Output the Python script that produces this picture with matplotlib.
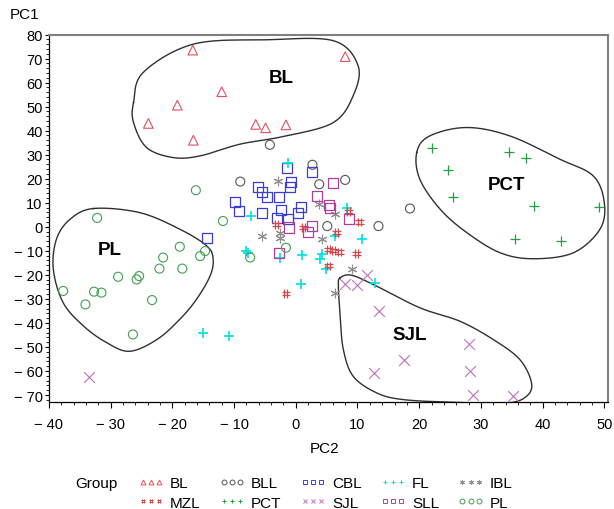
import numpy as np
import matplotlib
matplotlib.use('Agg')
import matplotlib.pyplot as plt
from matplotlib.path import Path
from matplotlib.lines import Line2D
from matplotlib.ticker import MultipleLocator, FuncFormatter

plt.rcParams['font.family'] = ['Liberation Sans', 'DejaVu Sans']

# groups (PC2 -> x, PC1 -> y)
BL_x = [-16.7, -12.0, -19.2, -23.9, -16.6, -6.5, -4.9, -1.6, 8.0]
BL_y = [73.5, 56.2, 50.6, 43.0, 36.0, 42.6, 41.2, 42.4, 70.8]
BLL_x = [-4.2, 2.7, -9.0, 3.8, 8.0, 5.1, 13.4, 18.5]
BLL_y = [34.1, 25.8, 18.8, 17.7, 19.5, 0.3, 0.3, 7.6]
CBL_x = [-1.4, 2.7, -0.8, -0.9, -6.1, -5.5, -4.7, -2.7, -9.9, -9.2, -5.4, -2.4, -3.1, -1.2, 0.3, 0.8, -14.4]
CBL_y = [24.3, 22.6, 18.8, 16.5, 16.6, 14.3, 12.2, 12.4, 10.5, 6.6, 5.6, 7.0, 3.8, 3.4, 5.6, 8.1, -4.5]
FL_x = [-1.2, -7.3, 8.3, -8.1, -7.8, -2.6, 1.0, 4.2, 4.0, 4.9, 6.4, 10.8, 0.8, 12.8, -15.0, -10.8]
FL_y = [26.5, 4.4, 7.7, -10.1, -11.0, -12.8, -11.8, -11.5, -13.5, -17.7, -3.8, -4.9, -24.0, -23.3, -44.1, -45.5]
IBL_x = [-2.9, 3.8, 6.4, -5.5, -2.6, -2.6, 4.2, 9.1, 6.4]
IBL_y = [19.1, 9.4, 5.2, -3.8, -2.4, -4.5, -5.2, -17.7, -27.7]
MZL_x = [-3.1, 1.2, 8.6, 10.3, 6.6, 5.3, 6.1, 7.1, 9.8, 5.3, -1.6]
MZL_y = [1.0, -0.3, 6.2, 2.0, -2.4, -9.4, -9.8, -10.5, -11.0, -16.3, -27.7]
PCT_x = [22.0, 34.6, 37.3, 24.7, 25.4, 38.6, 49.1, 35.5, 43.0]
PCT_y = [32.6, 31.3, 28.5, 23.5, 12.4, 8.5, 8.1, -5.2, -5.8]
SJL_x = [8.0, 10.0, 11.5, 13.5, 28.1, 17.6, 12.6, 28.2, 28.8, 35.2, -33.5]
SJL_y = [-23.7, -24.4, -19.9, -35.2, -48.8, -55.6, -60.8, -60.2, -70.1, -70.5, -62.7]
SLL_x = [6.1, 3.5, 5.4, 5.5, 8.6, -1.1, 2.6, 2.0, -2.8]
SLL_y = [18.4, 12.8, 9.0, 8.0, 3.4, -0.3, 0.3, -2.0, -10.8]
PL_x = [-16.2, -11.8, -32.2, -18.8, -14.7, -15.5, -21.5, -22.1, -18.4, -28.8, -25.4, -25.8,
        -37.7, -32.7, -31.5, -34.1, -23.3, -26.4, -1.6, -7.4]
PL_y = [15.2, 2.4, 3.7, -8.3, -10.1, -12.2, -12.8, -17.4, -17.4, -20.8, -20.5, -21.9,
        -26.7, -27.0, -27.4, -32.3, -30.5, -44.8, -8.7, -12.8]

# hand drawn outlines round the four separated groups
BL_hull_x = [-26.3, -24.7, -16.6, -4.7, 6.1, 10.1, 9.3, 6.1, -1.5, -9.0, -15.5, -19.9, -24.2, -26.3]
BL_hull_y = [51.7, 64.3, 76.0, 77.8, 77.4, 67.0, 54.5, 43.4, 37.8, 34.4, 29.5, 28.8, 33.0, 43.4]
PCT_hull_x = [19.6, 21.7, 27.7, 34.7, 42.8, 48.2, 50.0, 49.3, 45.0, 38.5, 33.1, 27.7, 23.4, 20.1]
PCT_hull_y = [30.9, 37.8, 41.3, 37.8, 28.1, 21.2, 10.1, -1.0, -10.8, -13.3, -10.8, -2.4, 7.3, 19.8]
SJL_hull_x = [7.2, 9.1, 13.1, 20.1, 26.6, 32.0, 36.3, 38.2, 37.4, 34.2, 25.5, 17.4, 13.1, 9.3, 7.7, 7.2, 6.9]
SJL_hull_y = [-21.2, -20.2, -24.7, -33.7, -39.3, -46.9, -55.2, -64.9, -70.5, -73.3, -73.0, -71.9, -69.1,
              -62.2, -51.0, -37.2, -24.7]
PL_hull_x = [-32.8, -25.3, -18.8, -14.4, -13.4, -13.9, -16.1, -18.8, -22.5, -26.9, -30.6, -34.4,
             -37.7, -39.3, -38.8, -36.6]
PL_hull_y = [7.6, 5.9, -1.0, -8.0, -13.5, -20.5, -30.2, -38.5, -46.9, -51.8, -48.3, -41.3,
             -31.6, -17.7, -5.2, 3.1]

hull_labels = ['BL', 'PCT', 'SJL', 'PL']
hull_lab_x = [-2.3, 34.2, 18.5, -30.2]
hull_lab_y = [62.2, 17.7, -44.8, -9.4]


def closed_spline(xs, ys, n=20):
    # closed catmull-rom through the outline points
    p = np.column_stack([xs, ys])
    m = len(p)
    out = []
    t = np.linspace(0, 1, n, endpoint=False)[:, None]
    for i in range(m):
        p0, p1, p2, p3 = p[(i - 1) % m], p[i], p[(i + 1) % m], p[(i + 2) % m]
        seg = 0.5 * (2 * p1 + (-p0 + p2) * t + (2 * p0 - 5 * p1 + 4 * p2 - p3) * t ** 2
                     + (-p0 + 3 * p1 - 3 * p2 + p3) * t ** 3)
        out.append(seg)
    out = np.vstack(out + [out[0][:1]])
    return out[:, 0], out[:, 1]


# '#' marker for MZL
hash_marker = Path([(-0.35, -1), (-0.35, 1), (0.35, -1), (0.35, 1),
                    (-1, -0.35), (1, -0.35), (-1, 0.35), (1, 0.35)],
                   [Path.MOVETO, Path.LINETO] * 4)

groups = [
    ('BL', BL_x, BL_y, '^', '#e8505c', 48, 0.8),
    ('BLL', BLL_x, BLL_y, 'o', '#555555', 42, 0.8),
    ('CBL', CBL_x, CBL_y, 's', '#3c3cdc', 52, 0.9),
    ('FL', FL_x, FL_y, '+', '#00e0e0', 60, 1.2),
    ('IBL', IBL_x, IBL_y, (6, 2, 0), '#909090', 40, 0.8),
    ('MZL', MZL_x, MZL_y, hash_marker, '#d84848', 40, 0.9),
    ('PCT', PCT_x, PCT_y, '+', '#20a040', 55, 0.9),
    ('SJL', SJL_x, SJL_y, 'x', '#c070c0', 60, 0.8),
    ('SLL', SLL_x, SLL_y, 's', '#b0409c', 52, 0.9),
    ('PL', PL_x, PL_y, 'o', '#40a050', 42, 0.8),
]

fig = plt.figure(figsize=(6.14, 5.10), dpi=100)
ax = fig.add_axes([49 / 614, 1 - 403 / 510, (608 - 49) / 614, (403 - 35.5) / 510])

for name, xs, ys, mk, col, s, lw in groups:
    if mk in ('+', 'x', (6, 2, 0)):
        ax.scatter(xs, ys, marker=mk, s=s, c=col, linewidths=lw, zorder=3)
    else:
        ax.scatter(xs, ys, marker=mk, s=s, facecolors='none', edgecolors=col, linewidths=lw, zorder=3)

for hx, hy in [(BL_hull_x, BL_hull_y), (PCT_hull_x, PCT_hull_y),
               (SJL_hull_x, SJL_hull_y), (PL_hull_x, PL_hull_y)]:
    sx, sy = closed_spline(hx, hy)
    ax.plot(sx, sy, color='#303030', lw=1.0, zorder=2)

for lab, lx, ly in zip(hull_labels, hull_lab_x, hull_lab_y):
    ax.text(lx, ly, lab, fontsize=13.5, fontweight='bold', ha='center', va='center')

ax.set_xlim(-40, 50.6)
ax.set_ylim(-72.9, 80)
ax.xaxis.set_major_locator(MultipleLocator(10))
ax.xaxis.set_minor_locator(MultipleLocator(2))
ax.yaxis.set_major_locator(MultipleLocator(10))
ax.yaxis.set_minor_locator(MultipleLocator(2))
fmt = FuncFormatter(lambda v, p: ('\u2212 %d' % -v) if v < 0 else '%d' % v)
ax.xaxis.set_major_formatter(fmt)
ax.yaxis.set_major_formatter(fmt)
ax.tick_params(axis='x', which='major', length=4, width=0.8, pad=7, labelsize=10.5)
ax.tick_params(axis='x', which='minor', length=2.5, width=0.6)
ax.tick_params(axis='y', which='major', length=3, width=0.8, pad=1.5, labelsize=10.5)
ax.tick_params(axis='y', which='minor', length=2, width=0.6)
for sp in ['top', 'right']:
    ax.spines[sp].set_color('#808080')
    ax.spines[sp].set_linewidth(1.5)
for sp in ['left', 'bottom']:
    ax.spines[sp].set_linewidth(0.9)

fig.text(25 / 614, 1 - 15 / 510, 'PC1', fontsize=11, ha='center', va='center')
fig.text(325 / 614, 1 - 449 / 510, 'PC2', fontsize=11, ha='center', va='center')
fig.text(96 / 614, 1 - 484 / 510, 'Group', fontsize=11, ha='center', va='center')

# legend: 2 rows x 5 columns, column-major order
order = [0, 5, 1, 6, 2, 7, 3, 8, 4, 9]
handles = []
for i in order:
    name, xs, ys, mk, col, s, lw = groups[i]
    handles.append(Line2D([], [], ls='', marker=mk, color=col, mfc='none', ms=3.5, mew=0.7, label=name))
fig.legend(handles=handles, ncol=5, numpoints=3, frameon=False, fontsize=11,
           loc='center left', bbox_to_anchor=(138 / 614, 1 - 494 / 510),
           handlelength=1.7, handletextpad=0.4, columnspacing=1.2,
           labelspacing=0.35, borderpad=0, borderaxespad=0)

plt.savefig('out.png', dpi=100)
